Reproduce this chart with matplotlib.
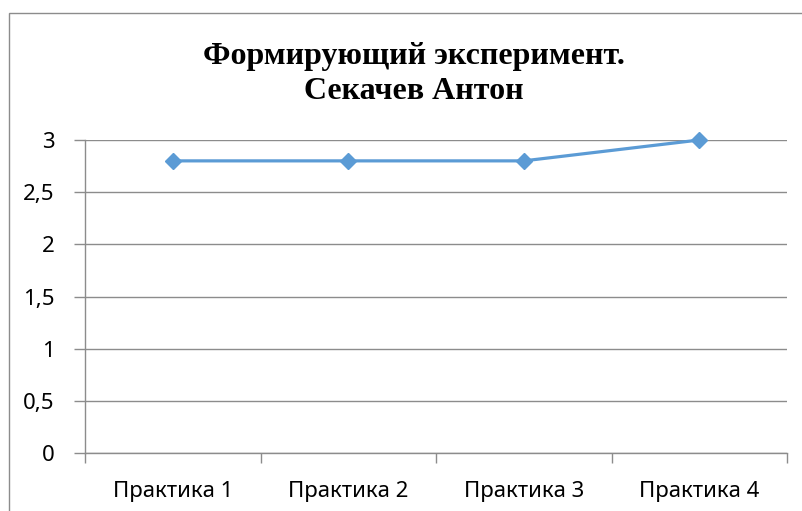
import matplotlib
matplotlib.use("Agg")
import matplotlib.pyplot as plt
from matplotlib.patches import Rectangle

# chart data
categories = ["Практика 1", "Практика 2", "Практика 3", "Практика 4"]
values = [2.8, 2.8, 2.8, 3.0]
y_ticks = [0, 0.5, 1, 1.5, 2, 2.5, 3]
y_labels = ["0", "0,5", "1", "1,5", "2", "2,5", "3"]

W, H = 803, 511
fig = plt.figure(figsize=(W / 100, H / 100), dpi=100)

# outer chart frame (right and bottom edges lie outside the picture)
fig.patches.append(Rectangle((9 / W, -0.1), 1.2, 1.1 - 13 / H,
                             transform=fig.transFigure, fill=False,
                             edgecolor="#8c8c8c", linewidth=1.0))

ax = fig.add_axes([85 / W, (H - 453) / H, (787 - 85) / W, (453 - 140) / H])

x = list(range(len(categories)))
ax.plot(x, values, color="#5B9BD5", linewidth=2.3, marker="D", markersize=8,
        markerfacecolor="#5B9BD5", markeredgecolor="#5B9BD5", zorder=3,
        clip_on=False)

ax.set_xlim(-0.5, len(categories) - 0.5)
ax.set_ylim(0, 3)
ax.set_yticks(y_ticks)
ax.set_yticklabels(y_labels)
ax.set_xticks(x)
ax.set_xticklabels(categories)
ax.set_xticks([i - 0.5 for i in range(len(categories) + 1)], minor=True)

ax.grid(axis="y", color="#8c8c8c", linewidth=1.0)
ax.set_axisbelow(True)
for s in ["top", "right"]:
    ax.spines[s].set_visible(False)
for s in ["left", "bottom"]:
    ax.spines[s].set_color("#8c8c8c")
    ax.spines[s].set_linewidth(1.0)

lab_font = ["Noto Sans", "DejaVu Sans"]
ax.tick_params(axis="x", which="major", length=0, pad=20, labelsize=16)
ax.tick_params(axis="x", which="minor", length=7, color="#8c8c8c", width=1.0)
ax.tick_params(axis="y", length=8, color="#8c8c8c", width=1.0, pad=14, labelsize=16)
for t in ax.get_xticklabels() + ax.get_yticklabels():
    t.set_family(lab_font)

fig.text(414 / W, 1 - 74 / H, "Формирующий эксперимент.\nСекачев Антон",
         ha="center", va="center", fontsize=23, fontweight="bold",
         family=["Liberation Serif", "DejaVu Serif"], linespacing=1.3)

fig.savefig("out.png", dpi=100)
